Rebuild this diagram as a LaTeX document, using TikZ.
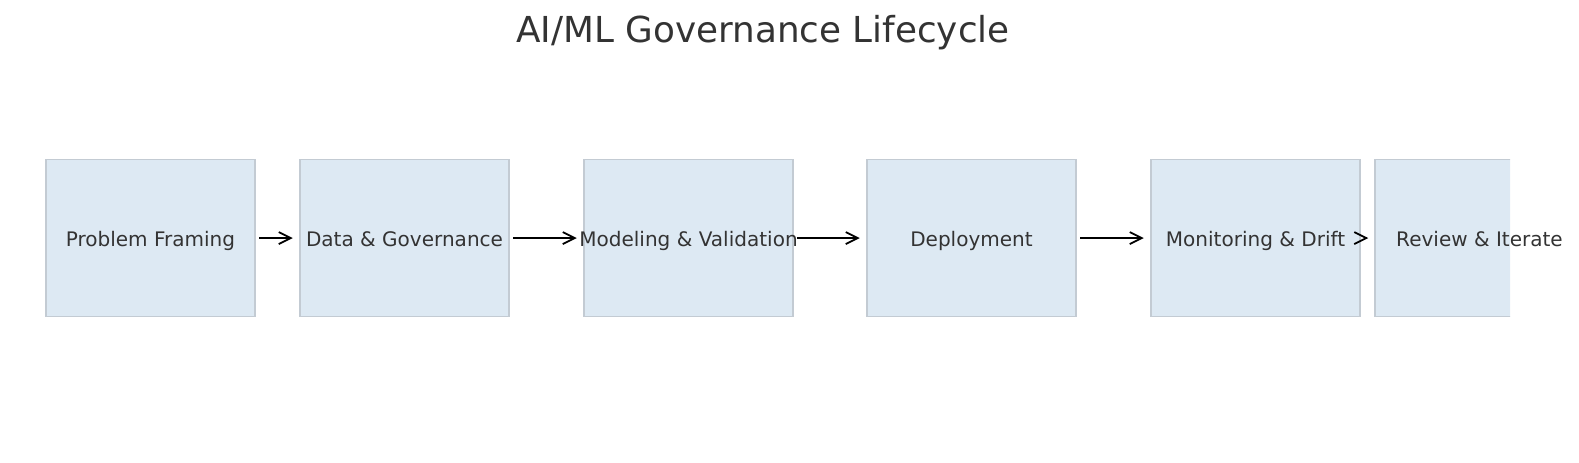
\documentclass[tikz,border=0pt]{standalone}
\usepackage{fontspec}
\setmainfont{DejaVu Sans}
\usetikzlibrary{arrows.meta}
\definecolor{boxfill}{RGB}{221,233,243}
\definecolor{boxline}{RGB}{195,203,211}
\definecolor{txt}{RGB}{51,51,51}
\tikzset{
  stage/.style={draw=boxline, fill=boxfill, line width=1.5bp, minimum width=209bp, minimum height=157bp, inner sep=0pt},
  lbl/.style={text=txt, font=\fontsize{20.1}{22}\selectfont, inner sep=0pt, anchor=base},
  arr/.style={line width=1.8bp, black, -{Straight Barb[length=12bp,width=12bp]}},
}
\begin{document}
\begin{tikzpicture}[x=1bp,y=-1bp]
\useasboundingbox (0,0) rectangle (1579,463);
\node[text=txt, font=\fontsize{35.9}{40}\selectfont, inner sep=0pt, anchor=base] (title) at (763,43) {AI/ML Governance Lifecycle};
\node[stage] (b1) at (150.5,238.1) {};
\node[stage] (b2) at (404.5,238.1) {};
\node[stage] (b3) at (688.5,238.1) {};
\node[stage] (b4) at (971.5,238.1) {};
\node[stage] (b5) at (1255.5,238.1) {};
\begin{scope}
\clip (0,0) rectangle (1510,463);
\node[stage] (b6) at (1479.5,238.1) {};
\end{scope}
\node[lbl] (t1) at ([yshift=-8bp]b1.center) {Problem Framing};
\node[lbl] (t2) at ([yshift=-8bp]b2.center) {Data \& Governance};
\node[lbl] (t3) at ([yshift=-8bp]b3.center) {Modeling \& Validation};
\node[lbl] (t4) at ([yshift=-8bp]b4.center) {Deployment};
\node[lbl] (t5) at ([yshift=-8bp]b5.center) {Monitoring \& Drift};
\node[lbl] (t6) at ([yshift=-8bp]b6.center) {Review \& Iterate};
\draw[arr] ([xshift=3.5bp]b1.east) -- ([xshift=-6.5bp]b2.west);
\draw[arr] ([xshift=3.5bp]b2.east) -- ([xshift=-6.5bp]b3.west);
\draw[arr] ([xshift=3.5bp]b3.east) -- ([xshift=-6.5bp]b4.west);
\draw[arr] ([xshift=3.5bp]b4.east) -- ([xshift=-6.5bp]b5.west);
\draw[arr] ([xshift=-7bp]b6.west) -- ([xshift=-6bp]b6.west);
\end{tikzpicture}
\end{document}
